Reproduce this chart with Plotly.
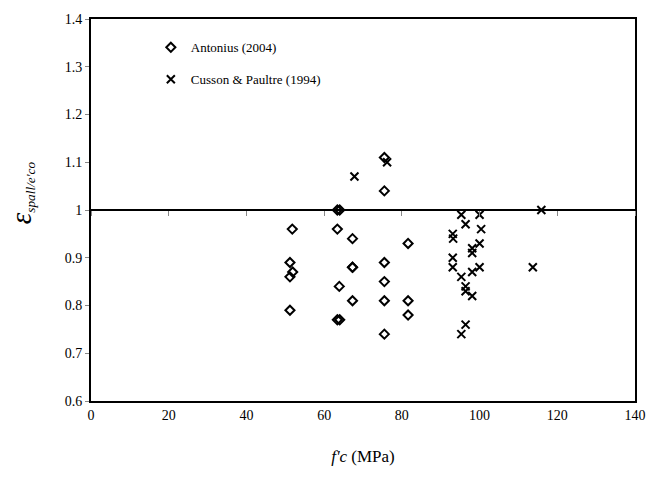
import plotly.graph_objects as go

# Antonius (2004)
antonius_x = [51.2, 51.2, 51.9, 51.2, 51.8,
              63.4, 64.0, 63.4, 63.9, 63.4, 64.0,
              67.3, 67.3, 67.3, 67.3,
              75.5, 75.5, 75.5, 75.5, 75.5, 75.5,
              81.6, 81.6, 81.6]
antonius_y = [0.79, 0.86, 0.87, 0.89, 0.96,
              1.00, 1.00, 0.96, 0.84, 0.77, 0.77,
              0.94, 0.88, 0.88, 0.81,
              1.11, 1.04, 0.89, 0.85, 0.81, 0.74,
              0.93, 0.81, 0.78]

# Cusson & Paultre (1994)
cusson_x = [67.8, 76.2,
            95.3, 100.0, 96.4, 100.4, 93.1, 93.2, 98.1, 100.0, 98.1, 93.1,
            93.1, 100.0, 98.1, 95.3, 96.4, 96.4, 98.1, 96.4, 95.3,
            115.9, 113.7]
cusson_y = [1.07, 1.10,
            0.99, 0.99, 0.97, 0.96, 0.95, 0.94, 0.92, 0.93, 0.91, 0.90,
            0.88, 0.88, 0.87, 0.86, 0.84, 0.83, 0.82, 0.76, 0.74,
            1.00, 0.88]

x_range = [0, 140]
y_range = [0.6, 1.4]
ref_value = 1.0

FONT = "Liberation Serif, Times New Roman, serif"

fig = go.Figure()
fig.add_trace(go.Scatter(
    x=antonius_x, y=antonius_y, mode="markers", name="Antonius (2004)",
    legendgroup="a",
    marker=dict(symbol="diamond-open", size=7, color="black",
                line=dict(color="black", width=2)),
))
fig.add_trace(go.Scatter(
    x=cusson_x, y=cusson_y, mode="markers", name="Cusson & Paultre (1994)",
    legendgroup="c",
    marker=dict(symbol="x-thin-open", size=8, color="black",
                line=dict(color="black", width=2)),
))
# invisible trace to carry the axis line that crosses at y = 1
fig.add_trace(go.Scatter(
    x=antonius_x, y=antonius_y, xaxis="x2", mode="markers",
    marker=dict(opacity=0), showlegend=False, hoverinfo="skip",
))

pos = (ref_value - y_range[0]) / (y_range[1] - y_range[0])

fig.update_layout(
    width=658, height=481,
    margin=dict(l=91, r=15, t=18, b=80),
    plot_bgcolor="white", paper_bgcolor="white",
    font=dict(family=FONT, size=14, color="black"),
    showlegend=True,
    legend=dict(x=0.11, y=0.965, xanchor="left", yanchor="top",
                bgcolor="rgba(0,0,0,0)", font=dict(family=FONT, size=13),
                itemwidth=30, tracegroupgap=12, traceorder="grouped"),
    xaxis=dict(range=x_range, dtick=20, showgrid=False, zeroline=False,
               showline=True, mirror=True, linecolor="black", linewidth=2,
               ticks="", tickfont=dict(family=FONT, size=14),
               title=dict(text="<i>f'c</i> (MPa)", font=dict(family=FONT, size=17),
                          standoff=28)),
    xaxis2=dict(range=x_range, dtick=20, overlaying="x", anchor="free",
                position=pos, showgrid=False, zeroline=False, showline=True,
                linecolor="black", linewidth=1.5, ticks="outside", ticklen=5,
                tickcolor="#888", tickwidth=1, showticklabels=False),
    yaxis=dict(range=y_range, dtick=0.1, showgrid=False, zeroline=False,
               showline=True, mirror=True, linecolor="black", linewidth=2,
               ticks="outside", ticklen=4, tickcolor="#888", tickwidth=1,
               tickfont=dict(family=FONT, size=14)),
    annotations=[dict(
        text="<i><span style='font-size:29px'>ε</span><sub>spall/e'co</sub></i>",
        font=dict(family=FONT, size=19), textangle=-90,
        xref="paper", yref="paper", x=-0.128, y=0.545,
        xanchor="center", yanchor="middle", showarrow=False)],
)

fig.write_html("out.html")
